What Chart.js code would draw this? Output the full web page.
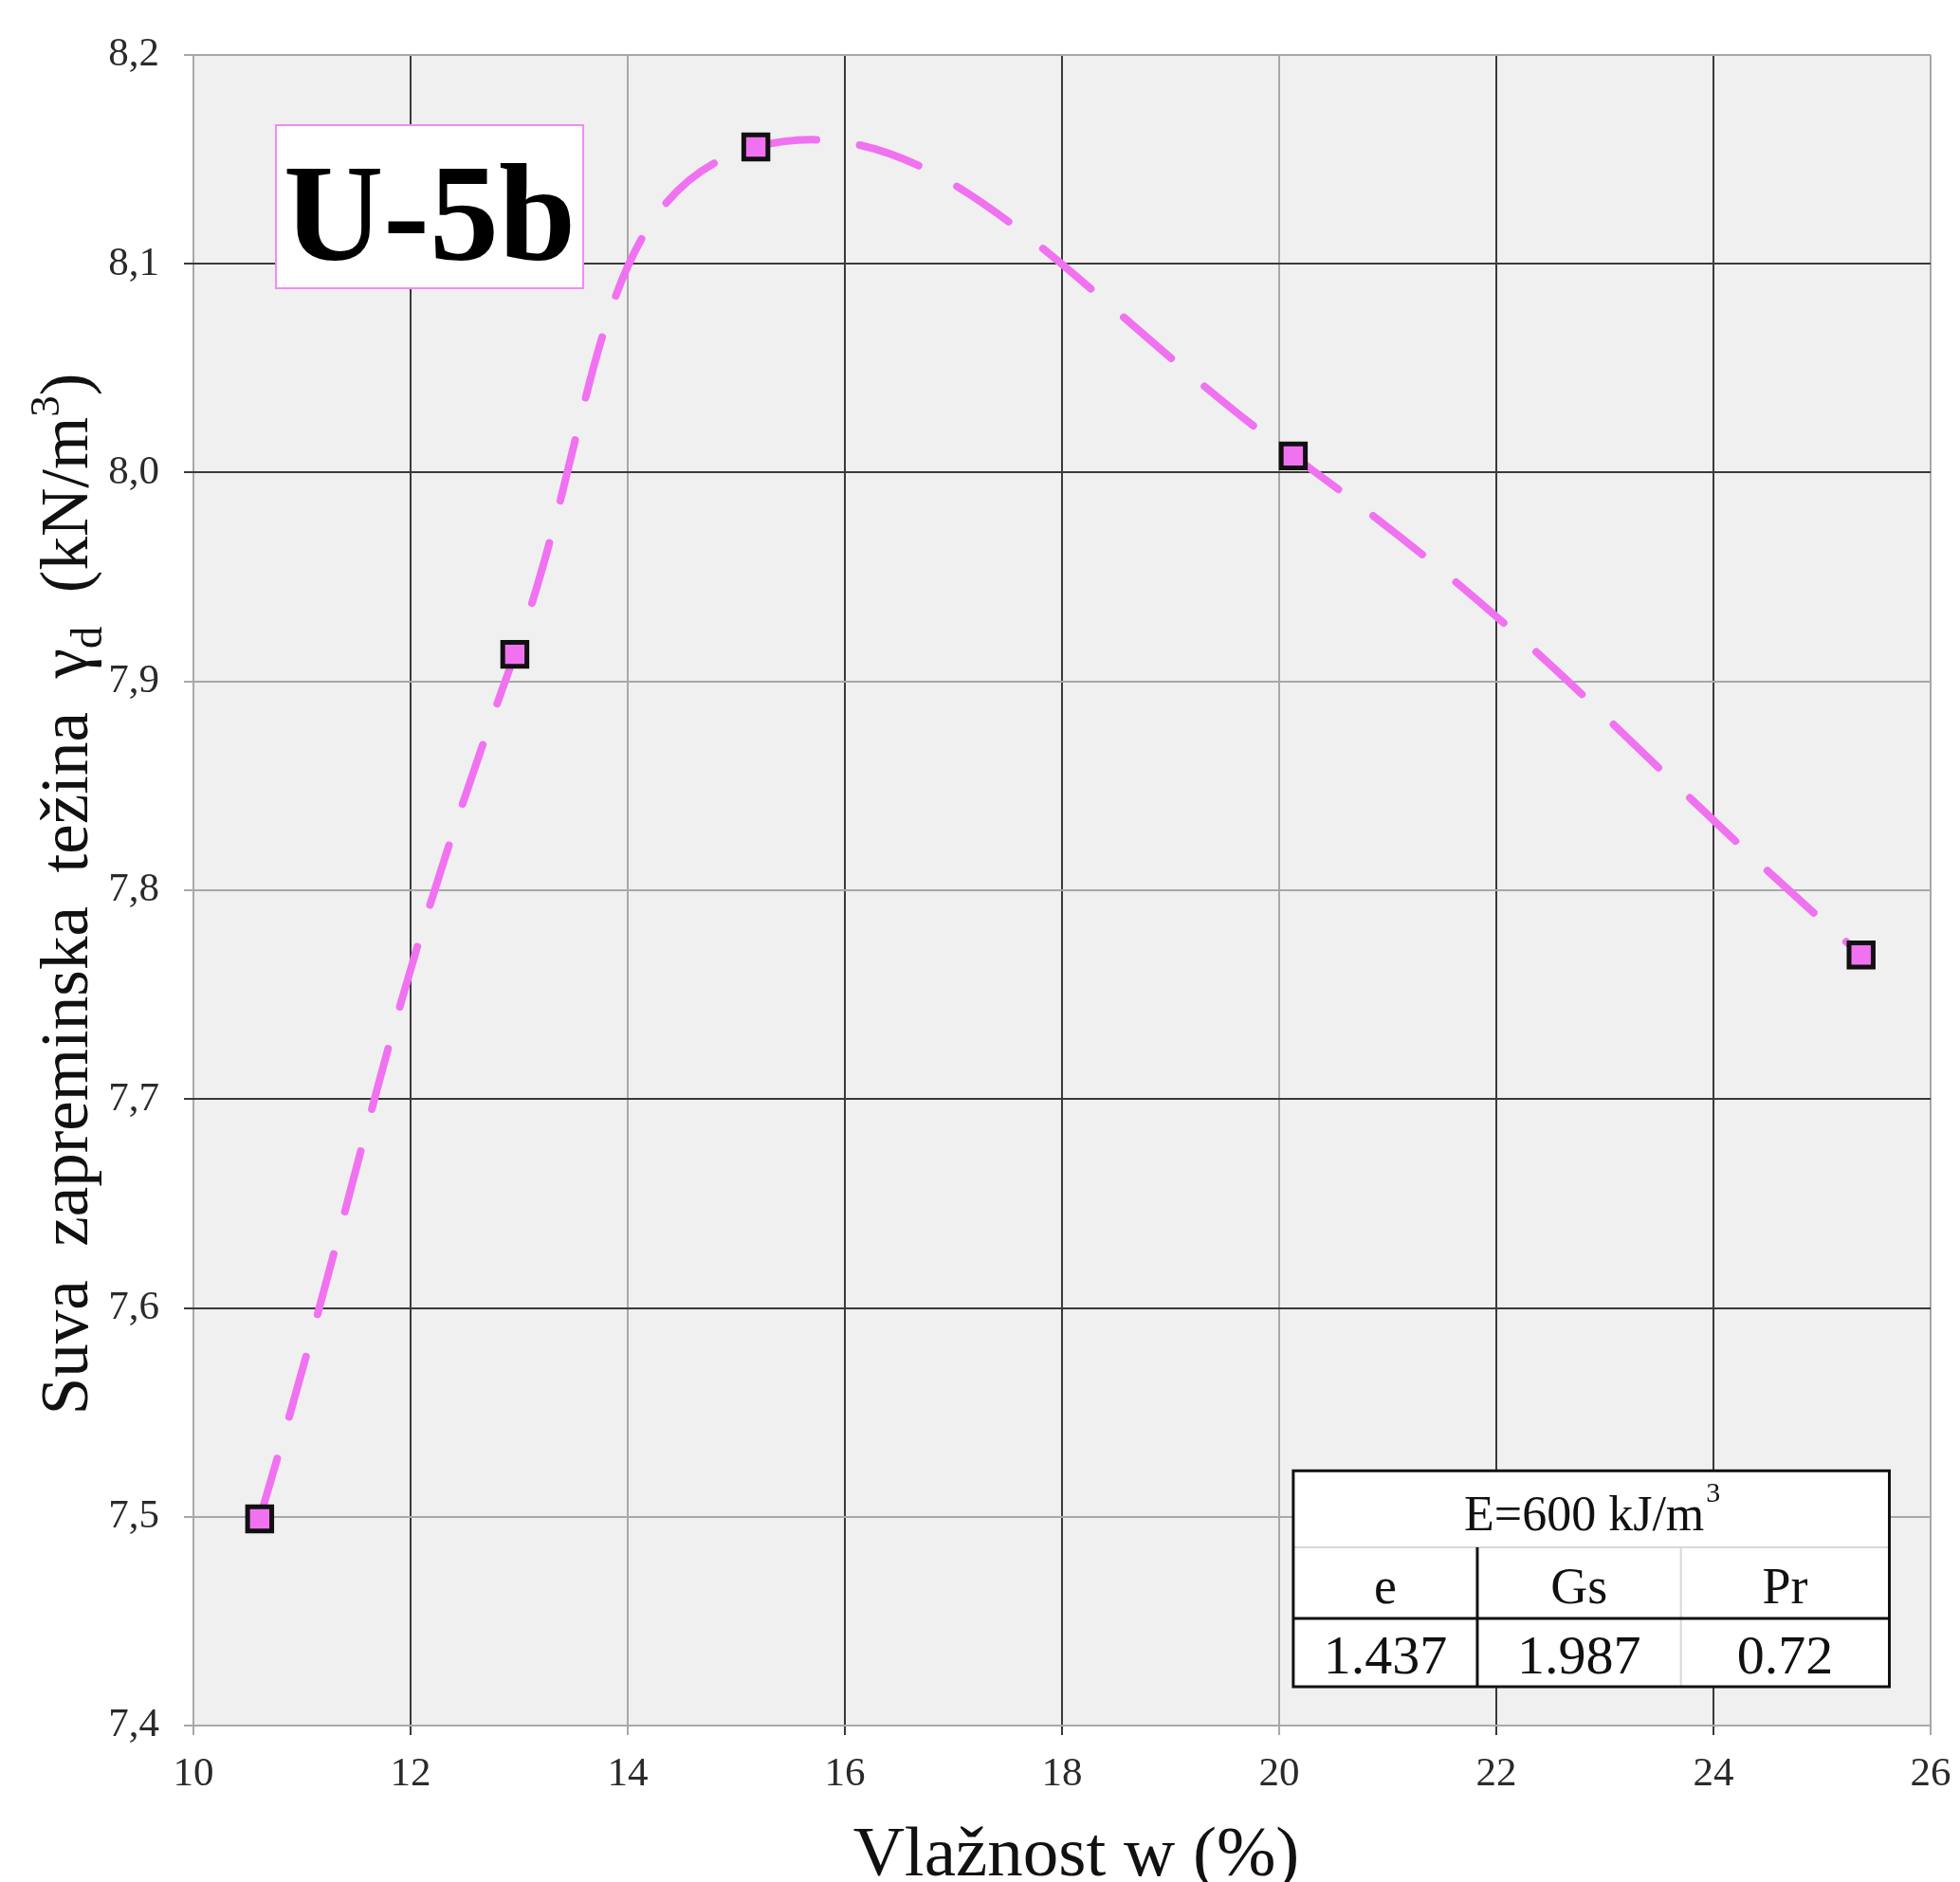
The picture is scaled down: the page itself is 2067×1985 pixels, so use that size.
<!DOCTYPE html>
<html>
<head>
<meta charset="utf-8">
<script src="https://cdn.jsdelivr.net/npm/chart.js@4"></script>
<style>
  html, body { margin: 0; padding: 0; background: #fff; }
  #chartDiv { width: 2067px; height: 1985px; }
</style>
</head>
<body>
<div id="chartDiv"><canvas id="canvas" width="2067" height="1985"></canvas></div>
<script>
// measured points (moisture %, dry unit weight kN/m3)
const moisture = [10.61, 12.96, 15.18, 20.13, 25.36];
const dryWeight = [7.499, 7.913, 8.156, 8.008, 7.769];

// axis ticks
const xTicks = [10, 12, 14, 16, 18, 20, 22, 24, 26];
const yTicks = [7.4, 7.5, 7.6, 7.7, 7.8, 7.9, 8.0, 8.1, 8.2];
// grid lines that look dark in the original scan
const xDarkGrid = [12, 16, 18, 22, 24];
const yDarkGrid = [8.1, 8.0, 7.7, 7.6];

// sample label + compaction table
const sampleName = 'U-5b';
const energyLabel = 'E=600 kJ/m';
const tableHead = ['e', 'Gs', 'Pr'];
const tableVals = ['1.437', '1.987', '0.72'];

const serif = '"Liberation Serif", "DejaVu Serif", serif';
const pink = '#f072f0';

const decorPlugin = {
    id: 'decor',
    beforeDraw(chart) {
        const ctx = chart.ctx;
        const a = chart.chartArea;
        ctx.save();
        ctx.fillStyle = '#ffffff';
        ctx.fillRect(0, 0, chart.width, chart.height);
        ctx.fillStyle = '#f0f0f0';
        ctx.fillRect(a.left, a.top, a.right - a.left, a.bottom - a.top);
        ctx.restore();
    },
    beforeDatasetsDraw(chart) {
        const ctx = chart.ctx;
        const xs = chart.scales.x, ys = chart.scales.y;
        ctx.save();

        // sample name box
        let l = xs.getPixelForValue(10.76), r = xs.getPixelForValue(13.59);
        let t = ys.getPixelForValue(8.1664), b = ys.getPixelForValue(8.0883);
        ctx.fillStyle = '#fff';
        ctx.fillRect(l, t, r - l, b - t);
        ctx.strokeStyle = '#f08cf0';
        ctx.lineWidth = 2;
        ctx.strokeRect(l, t, r - l, b - t);
        ctx.fillStyle = '#000';
        ctx.font = 'bold 146px ' + serif;
        ctx.textAlign = 'center';
        ctx.textBaseline = 'alphabetic';
        ctx.fillText(sampleName, (l + r) / 2, b - 30);

        // table
        const tl = xs.getPixelForValue(20.13), tr = xs.getPixelForValue(25.62);
        const c1 = xs.getPixelForValue(21.825), c2 = xs.getPixelForValue(23.70);
        const tt = ys.getPixelForValue(7.522), r1 = ys.getPixelForValue(7.4854);
        const r2 = ys.getPixelForValue(7.4513), tb = ys.getPixelForValue(7.4186);
        ctx.fillStyle = '#fff';
        ctx.fillRect(tl, tt, tr - tl, tb - tt);
        ctx.strokeStyle = '#d8d8d8';
        ctx.lineWidth = 2;
        ctx.beginPath();
        ctx.moveTo(tl, r1); ctx.lineTo(tr, r1);
        ctx.moveTo(c2, r1); ctx.lineTo(c2, tb);
        ctx.stroke();
        ctx.strokeStyle = '#111';
        ctx.lineWidth = 3;
        ctx.beginPath();
        ctx.moveTo(tl, r2); ctx.lineTo(tr, r2);
        ctx.moveTo(c1, r1); ctx.lineTo(c1, tb);
        ctx.stroke();
        ctx.strokeRect(tl, tt, tr - tl, tb - tt);

        ctx.fillStyle = '#111';
        ctx.textAlign = 'left';
        ctx.font = '52px ' + serif;
        const w1 = ctx.measureText(energyLabel).width;
        ctx.font = '30px ' + serif;
        const w2 = ctx.measureText('3').width;
        let ex = (tl + tr) / 2 - (w1 + w2) / 2;
        ctx.font = '52px ' + serif;
        ctx.fillText(energyLabel, ex, r1 - 18);
        ctx.font = '30px ' + serif;
        ctx.fillText('3', ex + w1 + 2, r1 - 48);

        ctx.textAlign = 'center';
        const cols = [[tl, c1], [c1, c2], [c2, tr]];
        cols.forEach((c, i) => {
            ctx.font = '54px ' + serif;
            ctx.fillText(tableHead[i], (c[0] + c[1]) / 2, r2 - 16);
            ctx.font = '58px ' + serif;
            ctx.fillText(tableVals[i], (c[0] + c[1]) / 2, tb - 14);
        });
        ctx.restore();
    },
    afterDraw(chart) {
        const ctx = chart.ctx;
        const a = chart.chartArea;
        ctx.save();
        ctx.fillStyle = '#111';
        ctx.textBaseline = 'alphabetic';

        // x axis title
        ctx.font = '75px ' + serif;
        ctx.textAlign = 'center';
        ctx.fillText('Vlažnost w (%)', (a.left + a.right) / 2 + 15, 1978);

        // y axis title, with subscript and superscript parts
        const parts = [
            { t: 'Suva  zapreminska  težina  γ', s: 71, dy: 0 },
            { t: 'd', s: 47, dy: 15 },
            { t: '  (kN/m', s: 71, dy: 0 },
            { t: '3', s: 45, dy: -30 },
            { t: ')', s: 71, dy: 0 }
        ];
        let total = 0;
        parts.forEach(p => {
            ctx.font = p.s + 'px ' + serif;
            p.w = ctx.measureText(p.t).width;
            total += p.w;
        });
        ctx.translate(92, (a.top + a.bottom) / 2 + 4);
        ctx.rotate(-Math.PI / 2);
        ctx.textAlign = 'left';
        let px = -total / 2;
        parts.forEach(p => {
            ctx.font = p.s + 'px ' + serif;
            ctx.fillText(p.t, px, p.dy);
            px += p.w;
        });
        ctx.restore();
    }
};

const ctx = document.getElementById('canvas').getContext('2d');
const myChart = new Chart(ctx, {
    type: 'line',
    data: {
        datasets: [{
            label: sampleName,
            data: moisture.map((m, i) => ({ x: m, y: dryWeight[i] })),
            borderColor: pink,
            borderWidth: 8,
            borderDash: [66, 46],
            borderCapStyle: 'round',
            tension: 0.45,
            pointStyle: 'rect',
            pointRadius: 18,
            pointBorderWidth: 5,
            pointBackgroundColor: pink,
            pointBorderColor: '#111',
            fill: false
        }]
    },
    options: {
        responsive: false,
        animation: false,
        layout: { padding: { top: 58, right: 31, bottom: 0, left: 0 } },
        plugins: {
            legend: { display: false },
            tooltip: { enabled: false }
        },
        scales: {
            x: {
                type: 'linear',
                min: 10,
                max: 26,
                afterBuildTicks: s => { s.ticks = xTicks.map(v => ({ value: v })); },
                afterFit: s => { s.height = 165; s.paddingLeft = 0; s.paddingRight = 0; },
                grid: {
                    color: c => xDarkGrid.includes(c.tick.value) ? '#3a3a3a' : '#a8a8a8',
                    lineWidth: 2,
                    tickLength: 10
                },
                border: { display: false },
                ticks: {
                    padding: 16,
                    color: '#2a2a2a',
                    maxRotation: 0,
                    font: { family: serif, size: 43 },
                    callback: v => String(v)
                }
            },
            y: {
                type: 'linear',
                min: 7.4,
                max: 8.2,
                afterBuildTicks: s => { s.ticks = yTicks.map(v => ({ value: v })); },
                afterFit: s => { s.width = 204; },
                grid: {
                    color: c => yDarkGrid.some(v => Math.abs(v - c.tick.value) < 1e-6) ? '#3a3a3a' : '#a8a8a8',
                    lineWidth: 2,
                    tickLength: 10
                },
                border: { display: false },
                ticks: {
                    padding: 26,
                    color: '#2a2a2a',
                    font: { family: serif, size: 43 },
                    callback: v => Number(v).toFixed(1).replace('.', ',')
                }
            }
        }
    },
    plugins: [decorPlugin]
});
</script>
</body>
</html>
